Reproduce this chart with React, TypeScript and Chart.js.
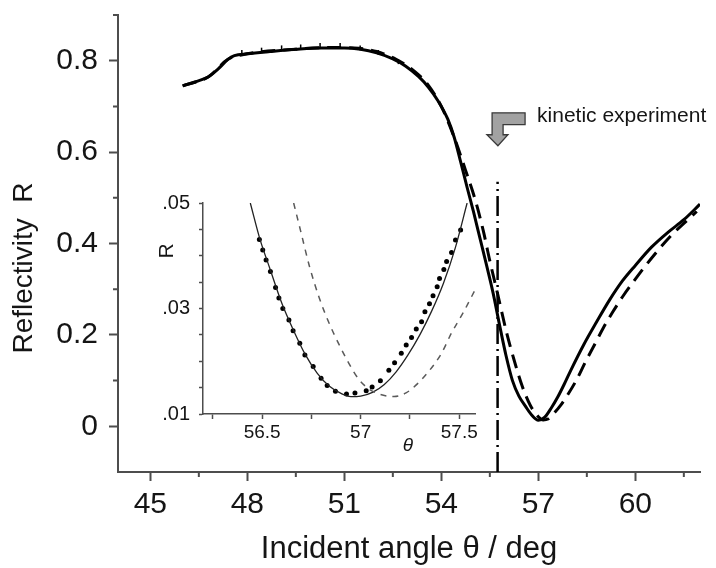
import { useEffect, useRef } from 'react';
import { Chart, registerables } from 'chart.js';

Chart.register(...registerables);

// ---------- main chart data ----------
const solidTheta = [46.0, 46.4, 46.8, 47.1, 47.4, 47.6, 48.0, 48.7, 49.5, 50.3, 51.0, 51.5, 52.0, 52.5, 52.9, 53.3, 53.6, 53.9, 54.2, 54.4, 54.6, 54.8, 55.0, 55.2, 55.4, 55.6, 55.8, 56.0, 56.2, 56.4, 56.6, 56.8, 57.0, 57.2, 57.4, 57.6, 57.8, 58.0, 58.4, 58.8, 59.2, 59.6, 60.0, 60.5, 61.0, 61.5, 62.0];
const solidR = [0.745, 0.754, 0.765, 0.782, 0.803, 0.811, 0.815, 0.820, 0.825, 0.828, 0.828, 0.825, 0.817, 0.804, 0.788, 0.765, 0.742, 0.712, 0.672, 0.632, 0.578, 0.522, 0.468, 0.410, 0.352, 0.292, 0.222, 0.155, 0.100, 0.066, 0.044, 0.024, 0.013, 0.020, 0.040, 0.064, 0.092, 0.122, 0.178, 0.228, 0.276, 0.318, 0.352, 0.392, 0.424, 0.452, 0.486];

const dashedTheta = [46.0, 46.8, 47.4, 48.0, 49.5, 50.5, 51.3, 52.0, 52.6, 53.2, 53.6, 54.0, 54.4, 54.75, 55.05, 55.3, 55.5, 55.75, 56.0, 56.25, 56.5, 56.75, 57.0, 57.15, 57.3, 57.5, 57.7, 57.9, 58.2, 58.45, 58.75, 59.0, 59.3, 59.6, 60.0, 60.3, 60.7, 61.1, 61.5, 61.9];
const dashedR = [0.745, 0.765, 0.803, 0.815, 0.825, 0.829, 0.828, 0.820, 0.803, 0.775, 0.746, 0.700, 0.632, 0.560, 0.495, 0.427, 0.362, 0.287, 0.210, 0.145, 0.088, 0.046, 0.021, 0.014, 0.016, 0.030, 0.047, 0.068, 0.104, 0.140, 0.180, 0.214, 0.250, 0.283, 0.322, 0.350, 0.385, 0.417, 0.444, 0.470];

const plateauDotTheta = [47.83, 48.44, 49.06, 49.65, 50.25, 50.87, 51.49, 52.05, 52.67];
const plateauDotR = [0.818, 0.823, 0.828, 0.830, 0.833, 0.833, 0.828, 0.818, 0.798];

const kineticTheta = [55.74, 55.74];
const kineticR = [-0.1, 0.535];

const arrowTheta = [56.59, 55.57, 55.57, 55.41, 55.75, 56.06, 55.91, 55.91, 56.59];
const arrowR = [0.686, 0.686, 0.638, 0.638, 0.614, 0.638, 0.638, 0.660, 0.660];
const kineticLabel = 'kinetic experiment';
const kineticLabelTheta = 56.96;
const kineticLabelR = 0.678;

const xMajorTicks = [45, 48, 51, 54, 57, 60];
const xMajorLabels = ['45', '48', '51', '54', '57', '60'];
const xMinorTicks = [46.5, 49.5, 52.5, 55.5, 58.5, 61.5];
const yMajorTicks = [0, 0.2, 0.4, 0.6, 0.8];
const yMajorLabels = ['0', '0.2', '0.4', '0.6', '0.8'];
const yMinorTicks = [0.1, 0.3, 0.5, 0.7, 0.9];

const xTitle = 'Incident angle θ / deg';
const yTitle = 'Reflectivity  R';

// ---------- inset data ----------
const insetSolidTheta = [56.44, 56.49, 56.54, 56.60, 56.66, 56.72, 56.78, 56.84, 56.90, 56.95, 57.00, 57.06, 57.12, 57.18, 57.24, 57.30, 57.36, 57.42, 57.48, 57.54];
const insetSolidR = [0.0500, 0.0430, 0.0375, 0.0310, 0.0258, 0.0212, 0.0177, 0.0153, 0.0139, 0.0133, 0.0134, 0.0141, 0.0156, 0.0180, 0.0212, 0.0250, 0.0295, 0.0348, 0.0415, 0.0500];

const insetDotTheta = [56.486, 56.503, 56.520, 56.542, 56.568, 56.585, 56.605, 56.636, 56.657, 56.691, 56.717, 56.759, 56.799, 56.830, 56.872, 56.928, 56.971, 57.028, 57.058, 57.100, 57.143, 57.172, 57.206, 57.231, 57.258, 57.282, 57.309, 57.326, 57.349, 57.367, 57.388, 57.400, 57.422, 57.436, 57.461, 57.481, 57.507];
const insetDotR = [0.0431, 0.0411, 0.0392, 0.0370, 0.0340, 0.0320, 0.0300, 0.0278, 0.0258, 0.0234, 0.0212, 0.0190, 0.0168, 0.0154, 0.0143, 0.0138, 0.0140, 0.0144, 0.0151, 0.0163, 0.0183, 0.0197, 0.0215, 0.0231, 0.0245, 0.0261, 0.0275, 0.0294, 0.0309, 0.0324, 0.0341, 0.0357, 0.0374, 0.0389, 0.0406, 0.0430, 0.0449];

const insetDashedTheta = [56.66, 56.70, 56.74, 56.79, 56.84, 56.89, 56.94, 56.99, 57.04, 57.10, 57.17, 57.23, 57.29, 57.35, 57.41, 57.46, 57.52, 57.58];
const insetDashedR = [0.0500, 0.0440, 0.0380, 0.0320, 0.0272, 0.0232, 0.0196, 0.0166, 0.0148, 0.0137, 0.0133, 0.0140, 0.0158, 0.0183, 0.0215, 0.0253, 0.0292, 0.0335];

const insetXTicks = [56.25, 56.5, 56.75, 57, 57.25, 57.5];
const insetXLabels = ['', '56.5', '', '57', '', '57.5'];
const insetYTicks = [0.01, 0.015, 0.02, 0.025, 0.03, 0.035, 0.04, 0.045, 0.05];
const insetYLabels = ['.01', '', '', '', '.03', '', '', '', '.05'];
const insetXTitle = 'θ';
const insetYTitle = 'R';

const FONT = "'Liberation Sans', Arial, Helvetica, sans-serif";
const AXIS = '#4d4d4d';
const TEXT = '#151515';

const pts = (xs: number[], ys: number[]) => xs.map((x, i) => ({ x, y: ys[i] }));
const labelFor = (vals: number[], labels: string[]) => (v: any) => {
  const i = vals.findIndex((t) => Math.abs(t - Number(v)) < 1e-9);
  return i >= 0 ? labels[i] : '';
};
const zeroPad = (s: any) => {
  s.paddingTop = 0; s.paddingBottom = 0; s.paddingLeft = 0; s.paddingRight = 0;
};

function mainConfig(): any {
  const decor = {
    id: 'mainDecor',
    afterDraw(chart: any) {
      const { ctx, chartArea } = chart;
      const xs = chart.scales.x;
      const ys = chart.scales.y;
      ctx.save();
      // minor ticks
      ctx.strokeStyle = AXIS;
      ctx.lineWidth = 2;
      ctx.beginPath();
      xMinorTicks.forEach((v) => {
        const px = xs.getPixelForValue(v);
        ctx.moveTo(px, chartArea.bottom);
        ctx.lineTo(px, chartArea.bottom + 5);
      });
      yMinorTicks.forEach((v) => {
        const py = ys.getPixelForValue(v);
        ctx.moveTo(chartArea.left - 5, py);
        ctx.lineTo(chartArea.left, py);
      });
      ctx.stroke();
      // arrow
      ctx.beginPath();
      arrowTheta.forEach((t, i) => {
        const px = xs.getPixelForValue(t);
        const py = ys.getPixelForValue(arrowR[i]);
        if (i === 0) ctx.moveTo(px, py); else ctx.lineTo(px, py);
      });
      ctx.closePath();
      ctx.fillStyle = '#a2a2a2';
      ctx.fill();
      ctx.strokeStyle = '#3a3a3a';
      ctx.lineWidth = 1.3;
      ctx.stroke();
      // annotation text
      ctx.fillStyle = TEXT;
      ctx.font = `21px ${FONT}`;
      ctx.textAlign = 'left';
      ctx.textBaseline = 'middle';
      ctx.fillText(kineticLabel, xs.getPixelForValue(kineticLabelTheta), ys.getPixelForValue(kineticLabelR));
      // axis titles
      ctx.font = `31px ${FONT}`;
      ctx.textAlign = 'center';
      ctx.textBaseline = 'alphabetic';
      ctx.fillText(xTitle, (chartArea.left + chartArea.right) / 2, 558);
      ctx.save();
      ctx.translate(32, 268);
      ctx.rotate(-Math.PI / 2);
      ctx.font = `28px ${FONT}`;
      ctx.fillText(yTitle, 0, 0);
      ctx.restore();
      ctx.restore();
    },
  };
  return {
    type: 'line',
    data: {
      datasets: [
        {
          data: pts(dashedTheta, dashedR),
          borderColor: '#000',
          borderWidth: 3,
          borderDash: [14, 8],
          pointRadius: 0,
          cubicInterpolationMode: 'monotone',
          fill: false,
        },
        {
          data: pts(solidTheta, solidR),
          borderColor: '#000',
          borderWidth: 3,
          pointRadius: 0,
          cubicInterpolationMode: 'monotone',
          fill: false,
        },
        {
          data: pts(plateauDotTheta, plateauDotR),
          showLine: false,
          pointStyle: 'line',
          pointRotation: 90,
          pointRadius: 2.5,
          pointBorderWidth: 1.5,
          pointBorderColor: '#000',
        },
        {
          data: pts(kineticTheta, kineticR),
          borderColor: '#000',
          borderWidth: 2.5,
          borderDash: [20, 5, 2, 5],
          pointRadius: 0,
          tension: 0,
          fill: false,
        },
      ],
    },
    options: {
      animation: false,
      responsive: false,
      maintainAspectRatio: false,
      events: [],
      layout: { padding: { left: 18, right: 16, top: 15, bottom: 36 } },
      plugins: { legend: { display: false }, tooltip: { enabled: false }, title: { display: false } },
      scales: {
        x: {
          type: 'linear',
          min: 44,
          max: 62,
          afterFit: (s: any) => { s.height = 60; zeroPad(s); },
          afterBuildTicks: (s: any) => { s.ticks = xMajorTicks.map((v) => ({ value: v })); },
          grid: { display: true, drawOnChartArea: false, drawTicks: true, tickLength: 9, tickColor: AXIS, tickWidth: 2 },
          border: { display: true, color: AXIS, width: 2 },
          ticks: {
            font: { family: FONT, size: 30 },
            color: TEXT,
            padding: 6,
            maxRotation: 0,
            autoSkip: false,
            callback: labelFor(xMajorTicks, xMajorLabels),
          },
        },
        y: {
          type: 'linear',
          min: -0.1,
          max: 0.9,
          afterFit: (s: any) => { s.width = 100; zeroPad(s); },
          afterBuildTicks: (s: any) => { s.ticks = yMajorTicks.map((v) => ({ value: v })); },
          grid: { display: true, drawOnChartArea: false, drawTicks: true, tickLength: 9, tickColor: AXIS, tickWidth: 2 },
          border: { display: true, color: AXIS, width: 2 },
          ticks: {
            font: { family: FONT, size: 30 },
            color: TEXT,
            padding: 11,
            autoSkip: false,
            callback: labelFor(yMajorTicks, yMajorLabels),
          },
        },
      },
    },
    plugins: [decor],
  };
}

function insetConfig(): any {
  const decor = {
    id: 'insetDecor',
    afterDraw(chart: any) {
      const { ctx, chartArea } = chart;
      ctx.save();
      ctx.fillStyle = TEXT;
      ctx.font = `italic 19px ${FONT}`;
      ctx.textAlign = 'center';
      ctx.textBaseline = 'middle';
      ctx.fillText(insetXTitle, chartArea.left + 205, chartArea.bottom + 32);
      ctx.save();
      ctx.translate(chartArea.left - 30, chartArea.top + 48);
      ctx.rotate(-Math.PI / 2);
      ctx.font = `21px ${FONT}`;
      ctx.textBaseline = 'alphabetic';
      ctx.fillText(insetYTitle, 0, 0);
      ctx.restore();
      ctx.restore();
    },
  };
  return {
    type: 'line',
    data: {
      datasets: [
        {
          data: pts(insetDashedTheta, insetDashedR),
          borderColor: '#5a5a5a',
          borderWidth: 1.5,
          borderDash: [6, 6],
          pointRadius: 0,
          cubicInterpolationMode: 'monotone',
          fill: false,
        },
        {
          data: pts(insetSolidTheta, insetSolidR),
          borderColor: '#222',
          borderWidth: 1.3,
          pointRadius: 0,
          cubicInterpolationMode: 'monotone',
          fill: false,
        },
        {
          data: pts(insetDotTheta, insetDotR),
          showLine: false,
          pointRadius: 2.5,
          pointBorderWidth: 0,
          pointBackgroundColor: '#000',
        },
      ],
    },
    options: {
      animation: false,
      responsive: false,
      maintainAspectRatio: false,
      events: [],
      layout: { padding: { left: 143, right: 241, top: 203, bottom: 114 } },
      plugins: { legend: { display: false }, tooltip: { enabled: false }, title: { display: false } },
      scales: {
        x: {
          type: 'linear',
          min: 56.2,
          max: 57.58,
          afterFit: (s: any) => { s.height = 40; zeroPad(s); },
          afterBuildTicks: (s: any) => { s.ticks = insetXTicks.map((v) => ({ value: v })); },
          grid: { display: true, drawOnChartArea: false, drawTicks: true, tickLength: 5, tickColor: AXIS, tickWidth: 1.5 },
          border: { display: true, color: AXIS, width: 1.5 },
          ticks: {
            font: { family: FONT, size: 19 },
            color: TEXT,
            padding: 2,
            maxRotation: 0,
            autoSkip: false,
            callback: labelFor(insetXTicks, insetXLabels),
          },
        },
        y: {
          type: 'linear',
          min: 0.01,
          max: 0.05,
          afterFit: (s: any) => { s.width = 60; zeroPad(s); },
          afterBuildTicks: (s: any) => { s.ticks = insetYTicks.map((v) => ({ value: v })); },
          grid: { display: true, drawOnChartArea: false, drawTicks: true, tickLength: 4, tickColor: AXIS, tickWidth: 1.5 },
          border: { display: true, color: AXIS, width: 1.5 },
          ticks: {
            font: { family: FONT, size: 20 },
            color: TEXT,
            padding: 9,
            autoSkip: false,
            callback: labelFor(insetYTicks, insetYLabels),
          },
        },
      },
    },
    plugins: [decor],
  };
}

export default function App() {
  const mainRef = useRef<HTMLCanvasElement>(null);
  const insetRef = useRef<HTMLCanvasElement>(null);
  useEffect(() => {
    const main = new Chart(mainRef.current as HTMLCanvasElement, mainConfig());
    const inset = new Chart(insetRef.current as HTMLCanvasElement, insetConfig());
    return () => {
      main.destroy();
      inset.destroy();
    };
  }, []);
  return (
    <div style={{ position: 'absolute', left: 0, top: 0, width: 716, height: 568, background: '#fff' }}>
      <canvas ref={mainRef} width={716} height={568} style={{ position: 'absolute', left: 0, top: 0 }} />
      <canvas ref={insetRef} width={716} height={568} style={{ position: 'absolute', left: 0, top: 0 }} />
    </div>
  );
}
